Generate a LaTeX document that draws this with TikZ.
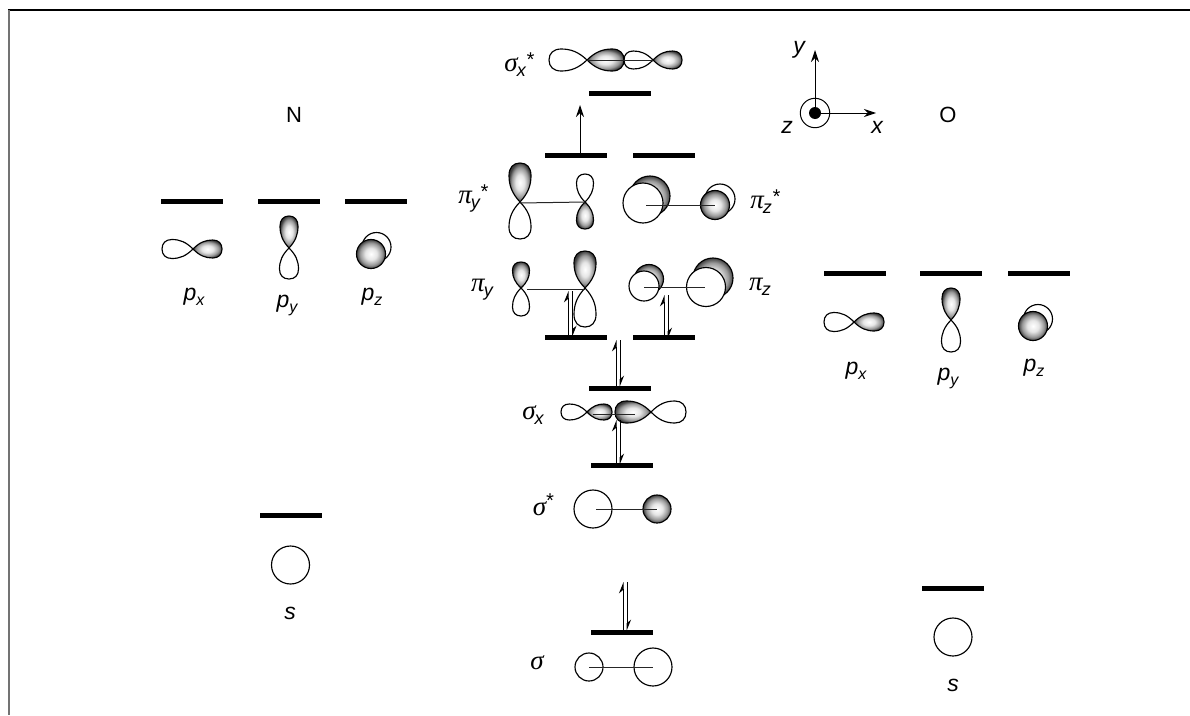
\documentclass[tikz,border=0pt]{standalone}
\usepackage{fontspec}
\setmainfont{Liberation Sans}
\newfontfamily\gkfont{Liberation Serif}
\usetikzlibrary{arrows.meta}
\pgfdeclareradialshading{orbshade}{\pgfpoint{0bp}{0bp}}{color(0bp)=(white); color(10bp)=(white!90!black); color(19bp)=(black!40); color(25bp)=(black!75); color(50bp)=(black)}
\tikzset{
  level/.style={fill=black,draw=none,minimum width=62pt,minimum height=5pt,inner sep=0pt,rectangle},
  orbline/.style={draw=black,line width=1.15pt},
  orbshaded/.style={shading=orbshade,draw=black,line width=1.15pt},
  orbwhite/.style={fill=white,draw=black,line width=1.15pt},
  bondline/.style={draw=black!85,line width=1pt},
  elec/.style={line width=1pt},
  lab/.style={inner sep=0pt,font=\fontsize{23}{26}\selectfont\itshape},
  atomlab/.style={inner sep=0pt,font=\fontsize{22}{26}\selectfont},
  gklab/.style={inner sep=0pt,font=\fontsize{27}{30}\selectfont\gkfont\itshape},
}
\newcommand{\sbs}[1]{\raisebox{-5pt}{\fontsize{16}{16}\selectfont\rmfamily\itshape #1}}
\newcommand{\gsbs}[1]{\hspace{-1pt}\raisebox{-5pt}{\fontsize{18}{18}\selectfont\rmfamily\itshape #1}}
\newcommand{\str}{\raisebox{5pt}{\fontsize{20}{20}\selectfont\rmfamily *}}
% lobe: x,y of node, direction, length, half-width, style
\newcommand{\lobe}[6]{%
  \path[#6,shift={(#1,#2)},rotate=#3]
    (0,0) .. controls ({.22*#4},{.72*#5}) and ({.42*#4},{#5}) .. ({.68*#4},{#5})
    .. controls ({.88*#4},{#5}) and (#4,{.62*#5}) .. (#4,0)
    .. controls (#4,{-.62*#5}) and ({.88*#4},{-#5}) .. ({.68*#4},{-#5})
    .. controls ({.42*#4},{-#5}) and ({.22*#4},{-.72*#5}) .. (0,0) -- cycle;}
\newcommand{\disc}[4]{\path[#4] (#1,#2) circle (#3);}
\newcommand{\bond}[5]{%
  \coordinate (#1a) at (#2,#3); \coordinate (#1b) at (#4,#5);
  \draw[bondline] (#1a) -- (#1b);}
% pair of half arrows: name, up x, down x, top y, bottom y
\newcommand{\pair}[5]{%
  \coordinate (#1ub) at (#2,#5); \coordinate (#1ut) at (#2,#4);
  \coordinate (#1dt) at (#3,#4); \coordinate (#1db) at (#3,#5);
  \draw[elec,-{Stealth[harpoon,length=10pt,width=8pt]}] (#1ub) -- (#1ut);
  \draw[elec,-{Stealth[harpoon,length=10pt,width=8pt]}] (#1dt) -- (#1db);}
\begin{document}
\begin{tikzpicture}[x=1pt,y=-1pt]
\path[use as bounding box,fill=white] (0,0) rectangle (1190,715);
\draw[black,line width=1.2pt] (8,10) -- (1190,10);
\draw[black!55,line width=2pt] (8.5,10) -- (8.5,715);

% N atom
\node[atomlab] (N) at (294,115) {N};
\node[level] (Npx) at (192,201) {};
\node[level] (Npy) at (288.5,201) {};
\node[level] (Npz) at (376,201) {};
\lobe{193}{249}{180}{31}{9.5}{orbline}
\lobe{193}{249}{0}{29}{9}{orbshaded}
\lobe{289}{248}{90}{32}{9}{orbshaded}
\lobe{289}{248}{-90}{31}{9.5}{orbline}
\disc{376.5}{247}{14.5}{orbline}
\disc{371}{254}{14.5}{orbshaded}
\node[lab] (Npxl) at (194,297) {p\sbs{x}};
\node[lab] (Npyl) at (287,305) {p\sbs{y}};
\node[lab] (Npzl) at (372,297) {p\sbs{z}};
\node[level] (Ns) at (291,515.5) {};
\disc{290.5}{565}{19}{orbline}
\node[lab] (Nsl) at (290,613) {s};

% O atom
\node[atomlab] (O) at (948,115) {O};
\node[level] (Opx) at (854.5,273) {};
\node[level] (Opy) at (950.5,273) {};
\node[level] (Opz) at (1038.5,273) {};
\lobe{854}{322}{180}{30}{9.5}{orbline}
\lobe{854}{322}{0}{30}{9}{orbshaded}
\lobe{951}{320}{90}{32}{9}{orbshaded}
\lobe{951}{320}{-90}{32}{9.5}{orbline}
\disc{1038}{319}{14.5}{orbline}
\disc{1033}{326}{14.5}{orbshaded}
\node[lab] (Opxl) at (856,371) {p\sbs{x}};
\node[lab] (Opyl) at (948,378) {p\sbs{y}};
\node[lab] (Opzl) at (1034,368) {p\sbs{z}};
\node[level] (Os) at (953,588) {};
\disc{953}{637}{19}{orbline}
\node[lab] (Osl) at (953,685) {s};

% axes
\coordinate (ax) at (815,113);
\coordinate (axy) at (815,50);
\coordinate (axx) at (876,113);
\draw[line width=1pt,-{Stealth[length=12pt,width=8pt]}] (ax) -- (axy);
\draw[line width=1pt,-{Stealth[length=12pt,width=8pt]}] (ax) -- (axx);
\disc{815}{113}{14.7}{draw=black,line width=1pt}
\disc{815}{113}{6}{fill=black}
\node[lab] (ly) at (799,50) {y};
\node[lab] (lz) at (787,127) {z};
\node[lab] (lx) at (877,127) {x};

% MO levels
\node[level] (Lsxs) at (619.5,93) {};
\node[level] (Lpys) at (575.5,155) {};
\node[level] (Lpzs) at (663.5,155) {};
\node[level] (Lpy) at (575.5,337) {};
\node[level] (Lpz) at (663.5,337) {};
\node[level] (Lsx) at (619.5,388) {};
\node[level] (Lss) at (621.5,465) {};
\node[level] (Ls) at (621.5,632) {};

% sigma_x*
\node[gklab] (tsxs) at (519,65) {σ\gsbs{x}\str};
\lobe{587}{60}{180}{38}{11}{orbline}
\lobe{587}{60}{0}{37}{11}{orbshaded}
\lobe{653}{60}{180}{29}{9}{orbline}
\lobe{653}{60}{0}{29}{9}{orbshaded}
\bond{b1}{587}{60}{653}{60}

% excitation arrow
\coordinate (exb) at (580,155);
\coordinate (ext) at (580,105);
\draw[line width=1pt,-{Stealth[length=12pt,width=8pt]}] (exb) -- (ext);

% pi_y*
\node[gklab] (tpys) at (473,198) {π\gsbs{y}\str};
\lobe{520}{202}{90}{39}{11}{orbshaded}
\lobe{520}{202}{-90}{37}{11}{orbline}
\lobe{585}{202}{90}{28}{8.5}{orbline}
\lobe{585}{202}{-90}{27}{8.5}{orbshaded}
\bond{b2}{520}{203}{585}{202}

% pi_z*
\disc{650}{196}{20}{orbshaded}
\disc{643}{203}{20}{orbwhite}
\disc{720}{199}{15}{orbline}
\disc{715}{205}{14.5}{orbshaded}
\bond{b3}{646}{205}{715}{205}
\node[gklab] (tpzs) at (765,202) {π\gsbs{z}\str};

% pi_y
\node[gklab] (tpy) at (482,290) {π\gsbs{y}};
\lobe{521}{288}{90}{26}{8.5}{orbshaded}
\lobe{521}{288}{-90}{28}{8.5}{orbline}
\lobe{585}{288}{90}{37}{11}{orbshaded}
\lobe{585}{288}{-90}{39}{11}{orbline}
\bond{b4}{527}{289}{585}{289}
\pair{e1}{568}{572.5}{291}{337}

% pi_z
\disc{649}{279}{14.5}{orbshaded}
\disc{644}{286}{15}{orbwhite}
\disc{713}{278}{20}{orbshaded}
\disc{706}{287}{19.5}{orbwhite}
\bond{b5}{644}{287}{705}{287}
\node[gklab] (tpz) at (760,287) {π\gsbs{z}};
\pair{e2}{664}{668}{295}{339}

% sigma_x
\pair{e3}{616}{620}{340}{387}
\node[gklab] (tsx) at (533,415) {σ\gsbs{x}};
\lobe{587}{412}{180}{26}{8}{orbline}
\lobe{587}{412}{0}{25}{8}{orbshaded}
\lobe{651}{412}{180}{36}{11}{orbshaded}
\lobe{651}{412}{0}{35}{11}{orbline}
\bond{b6}{593}{414}{635}{414}
\pair{e4}{616}{620}{420}{465}

% sigma*
\node[gklab] (tss) at (543,505) {σ\raisebox{3pt}{\hspace{-1pt}\str}};
\disc{593}{509}{19}{orbline}
\disc{657}{509}{14}{orbshaded}
\bond{b7}{596}{509}{657}{509}

% sigma
\pair{e5}{623}{627}{582}{631}
\node[gklab] (ts) at (537,663) {σ};
\disc{589}{667}{14}{orbline}
\disc{653}{667}{19}{orbline}
\bond{b8}{589}{667}{653}{667}
\end{tikzpicture}
\end{document}
